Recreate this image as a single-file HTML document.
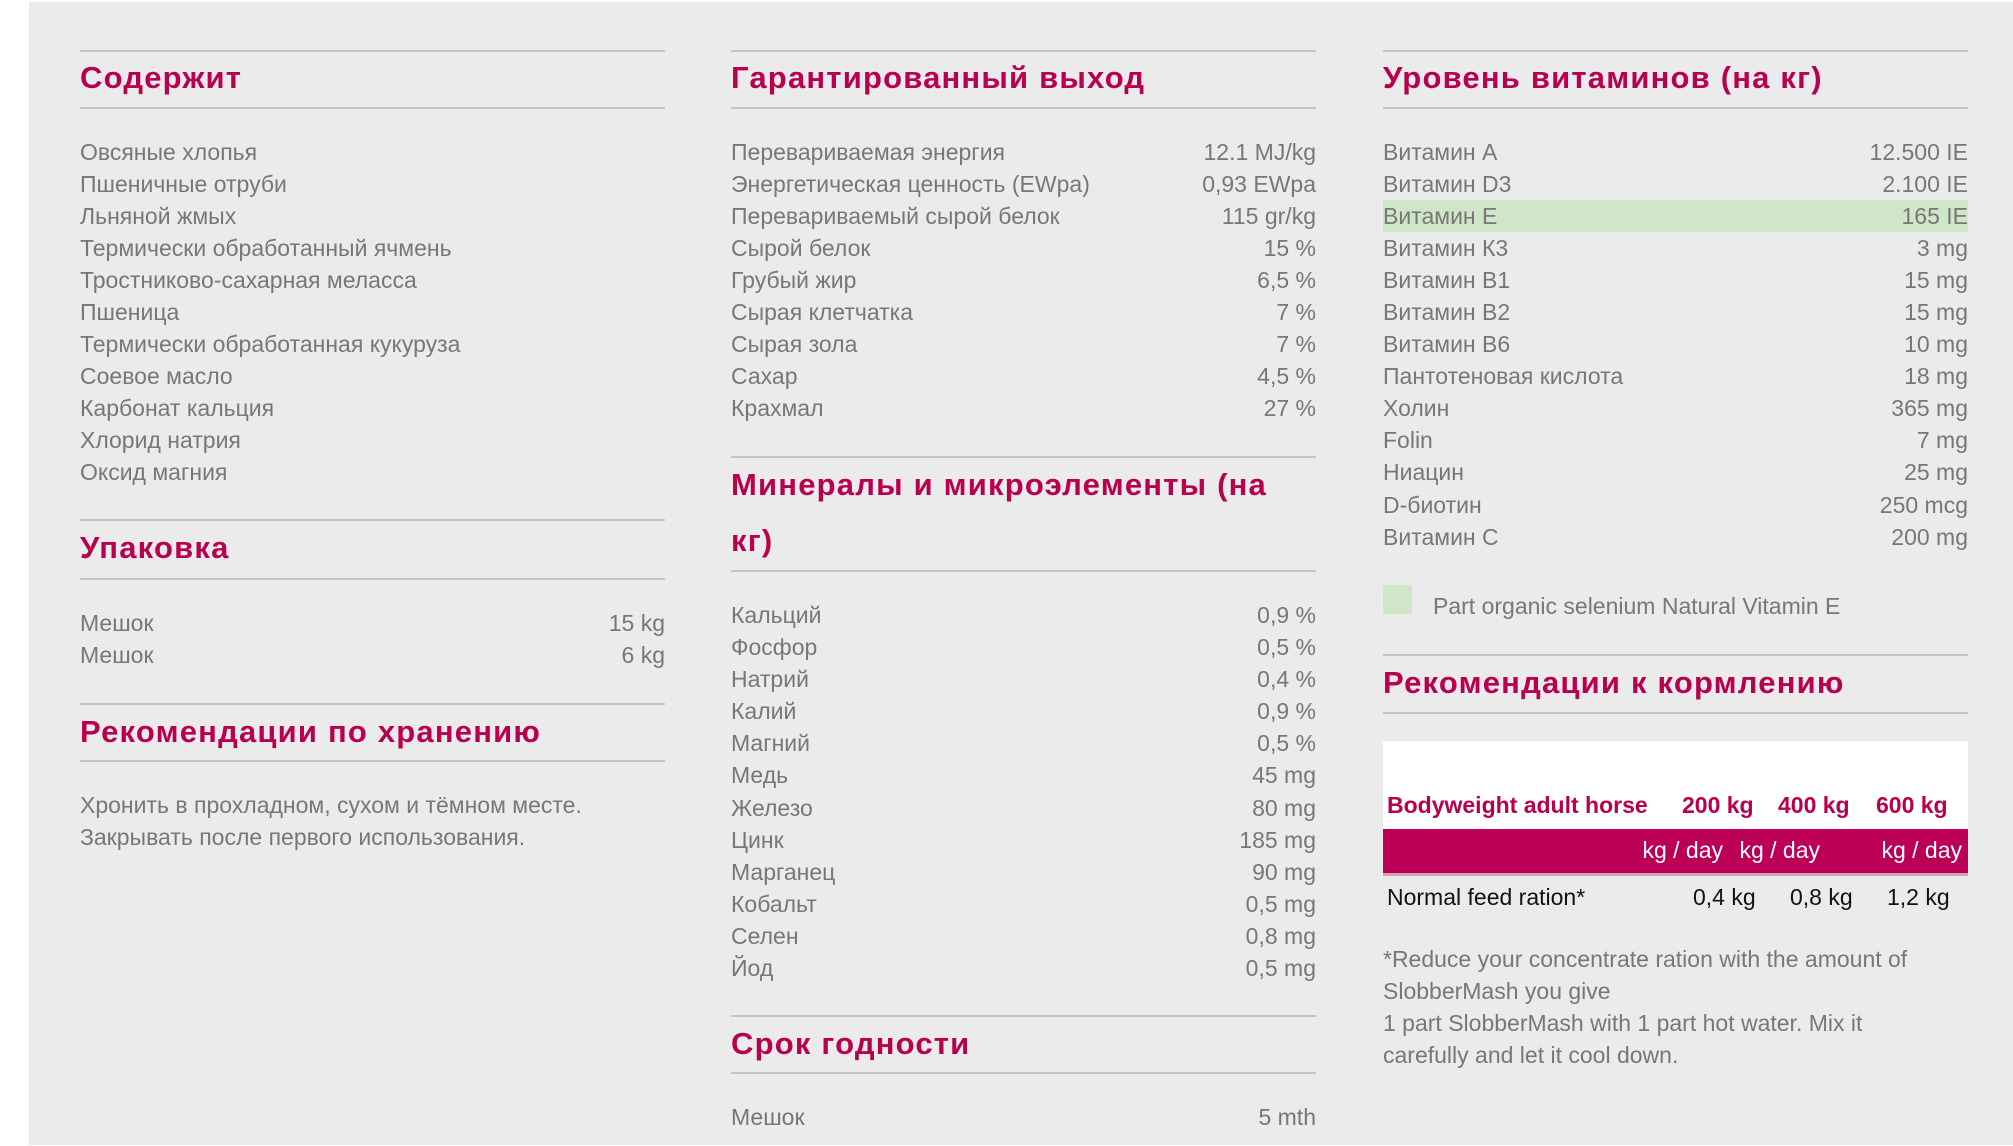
<!DOCTYPE html>
<html><head><meta charset="utf-8">
<style>
body{margin:0;width:2013px;height:1146px;background:#fff;position:relative;overflow:hidden;font-family:"Liberation Sans",sans-serif;}
#bg{position:absolute;left:29px;top:2px;width:1984px;height:1143px;background:#ebebeb;}
.col{position:absolute;width:585px;}
.hr{position:absolute;left:0;width:100%;height:2px;background:#c4c4c4;}
.h{position:absolute;left:0;color:#b8004f;font-weight:bold;font-size:31px;letter-spacing:1.2px;line-height:56px;white-space:nowrap;}
.rows{position:absolute;left:0;width:100%;}
.r{display:flex;justify-content:space-between;height:32.1px;line-height:32.1px;font-size:23px;color:#777;}
.r.hl{background:#cfe6c8;}
.p{position:absolute;left:0;font-size:23px;color:#777;line-height:32.1px;}
</style></head><body>
<div id="bg"></div>

<div class="col" style="left:80px;top:0">
 <div class="hr" style="top:50px"></div>
 <div class="h" style="top:50px">Содержит</div>
 <div class="hr" style="top:107px"></div>
 <div class="rows" style="top:135.5px">
  <div class="r"><span>Овсяные хлопья</span></div>
  <div class="r"><span>Пшеничные отруби</span></div>
  <div class="r"><span>Льняной жмых</span></div>
  <div class="r"><span>Термически обработанный ячмень</span></div>
  <div class="r"><span>Тростниково-сахарная меласса</span></div>
  <div class="r"><span>Пшеница</span></div>
  <div class="r"><span>Термически обработанная кукуруза</span></div>
  <div class="r"><span>Соевое масло</span></div>
  <div class="r"><span>Карбонат кальция</span></div>
  <div class="r"><span>Хлорид натрия</span></div>
  <div class="r"><span>Оксид магния</span></div>
 </div>
 <div class="hr" style="top:519px"></div>
 <div class="h" style="top:520px">Упаковка</div>
 <div class="hr" style="top:578px"></div>
 <div class="rows" style="top:607px">
  <div class="r"><span>Мешок</span><span>15 kg</span></div>
  <div class="r"><span>Мешок</span><span>6 kg</span></div>
 </div>
 <div class="hr" style="top:703px"></div>
 <div class="h" style="top:704px">Рекомендации по хранению</div>
 <div class="hr" style="top:760px"></div>
 <div class="p" style="top:789px">Хронить в прохладном, сухом и тёмном месте.<br>Закрывать после первого использования.</div>
</div>

<div class="col" style="left:731px;top:0">
 <div class="hr" style="top:50px"></div>
 <div class="h" style="top:50px">Гарантированный выход</div>
 <div class="hr" style="top:107px"></div>
 <div class="rows" style="top:135.5px">
  <div class="r"><span>Перевариваемая энергия</span><span>12.1 MJ/kg</span></div>
  <div class="r"><span>Энергетическая ценность (EWpa)</span><span>0,93 EWpa</span></div>
  <div class="r"><span>Перевариваемый сырой белок</span><span>115 gr/kg</span></div>
  <div class="r"><span>Сырой белок</span><span>15 %</span></div>
  <div class="r"><span>Грубый жир</span><span>6,5 %</span></div>
  <div class="r"><span>Сырая клетчатка</span><span>7 %</span></div>
  <div class="r"><span>Сырая зола</span><span>7 %</span></div>
  <div class="r"><span>Сахар</span><span>4,5 %</span></div>
  <div class="r"><span>Крахмал</span><span>27 %</span></div>
 </div>
 <div class="hr" style="top:456px"></div>
 <div class="h" style="top:457px">Минералы и микроэлементы (на</div>
 <div class="h" style="top:513px">кг)</div>
 <div class="hr" style="top:570px"></div>
 <div class="rows" style="top:599px">
  <div class="r"><span>Кальций</span><span>0,9 %</span></div>
  <div class="r"><span>Фосфор</span><span>0,5 %</span></div>
  <div class="r"><span>Натрий</span><span>0,4 %</span></div>
  <div class="r"><span>Калий</span><span>0,9 %</span></div>
  <div class="r"><span>Магний</span><span>0,5 %</span></div>
  <div class="r"><span>Медь</span><span>45 mg</span></div>
  <div class="r"><span>Железо</span><span>80 mg</span></div>
  <div class="r"><span>Цинк</span><span>185 mg</span></div>
  <div class="r"><span>Марганец</span><span>90 mg</span></div>
  <div class="r"><span>Кобальт</span><span>0,5 mg</span></div>
  <div class="r"><span>Селен</span><span>0,8 mg</span></div>
  <div class="r"><span>Йод</span><span>0,5 mg</span></div>
 </div>
 <div class="hr" style="top:1015px"></div>
 <div class="h" style="top:1016px">Срок годности</div>
 <div class="hr" style="top:1072px"></div>
 <div class="rows" style="top:1101px">
  <div class="r"><span>Мешок</span><span>5 mth</span></div>
 </div>
</div>

<div class="col" style="left:1383px;top:0">
 <div class="hr" style="top:50px"></div>
 <div class="h" style="top:50px">Уровень витаминов (на кг)</div>
 <div class="hr" style="top:107px"></div>
 <div class="rows" style="top:135.5px">
  <div class="r"><span>Витамин A</span><span>12.500 IE</span></div>
  <div class="r"><span>Витамин D3</span><span>2.100 IE</span></div>
  <div class="r hl"><span>Витамин E</span><span>165 IE</span></div>
  <div class="r"><span>Витамин К3</span><span>3 mg</span></div>
  <div class="r"><span>Витамин B1</span><span>15 mg</span></div>
  <div class="r"><span>Витамин B2</span><span>15 mg</span></div>
  <div class="r"><span>Витамин B6</span><span>10 mg</span></div>
  <div class="r"><span>Пантотеновая кислота</span><span>18 mg</span></div>
  <div class="r"><span>Холин</span><span>365 mg</span></div>
  <div class="r"><span>Folin</span><span>7 mg</span></div>
  <div class="r"><span>Ниацин</span><span>25 mg</span></div>
  <div class="r"><span>D-биотин</span><span>250 mcg</span></div>
  <div class="r"><span>Витамин C</span><span>200 mg</span></div>
 </div>
 <div style="position:absolute;left:0;top:585px;width:29px;height:29px;background:#cfe6c8"></div>
 <div class="p" style="left:50px;top:590px">Part organic selenium Natural Vitamin E</div>
 <div class="hr" style="top:654px"></div>
 <div class="h" style="top:655px">Рекомендации к кормлению</div>
 <div class="hr" style="top:712px"></div>
 <div style="position:absolute;left:0;top:741px;width:585px;height:88px;background:#fff"></div>
 <div style="position:absolute;left:4px;top:792px;font-size:23px;font-weight:bold;color:#b8004f">Bodyweight adult horse</div>
 <div style="position:absolute;left:299px;top:792px;font-size:23px;font-weight:bold;color:#b8004f">200 kg</div>
 <div style="position:absolute;left:395px;top:792px;font-size:23px;font-weight:bold;color:#b8004f">400 kg</div>
 <div style="position:absolute;left:493px;top:792px;font-size:23px;font-weight:bold;color:#b8004f">600 kg</div>
 <div style="position:absolute;left:0;top:829px;width:585px;height:44px;background:#bb0055;border-bottom:3px solid #d8a0b8">
  <span style="position:absolute;right:245px;top:8px;font-size:23px;color:#fff">kg / day</span>
  <span style="position:absolute;right:148px;top:8px;font-size:23px;color:#fff">kg / day</span>
  <span style="position:absolute;right:6px;top:8px;font-size:23px;color:#fff">kg / day</span>
 </div>
 <div style="position:absolute;left:4px;top:884px;font-size:23px;color:#111">Normal feed ration*</div>
 <span style="position:absolute;left:310px;top:884px;font-size:23px;color:#111">0,4 kg</span>
 <span style="position:absolute;left:407px;top:884px;font-size:23px;color:#111">0,8 kg</span>
 <span style="position:absolute;left:504px;top:884px;font-size:23px;color:#111">1,2 kg</span>
 <div class="p" style="top:943px;width:560px">*Reduce your concentrate ration with the amount of SlobberMash you give<br>1 part SlobberMash with 1 part hot water. Mix it carefully and let it cool down.</div>
</div>
</body></html>
